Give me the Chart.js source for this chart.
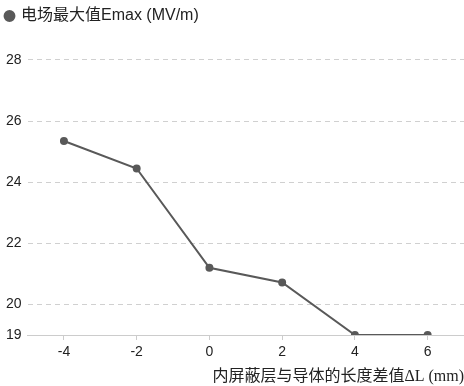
<!DOCTYPE html>
<html>
<head>
<meta charset="utf-8">
<script src="https://cdn.jsdelivr.net/npm/chart.js@4"></script>
<style>
  html, body { margin: 0; padding: 0; background: #fff; }
  #wrap { width: 464px; height: 386px; }
</style>
</head>
<body>
<div id="wrap"><canvas id="chart" width="464" height="386"></canvas></div>
<script>
// 横軸: 長さの差 ΔL (mm)
const deltaL = ['-4', '-2', '0', '2', '4', '6'];
// 電場最大値 Emax (MV/m)
const emax = [25.35, 24.45, 21.2, 20.72, 19.0, 19.0];
const yTicks = [19, 20, 22, 24, 26, 28];

const seriesName = '电场最大值Emax (MV/m)';
const xTitle = '内屏蔽层与导体的长度差值ΔL (mm)';

document.addEventListener('DOMContentLoaded', function() {
    const ctx = document.getElementById('chart');
    new Chart(ctx, {
        type: 'line',
        data: {
            labels: deltaL,
            datasets: [{
                label: seriesName,
                data: emax,
                borderColor: '#595959',
                backgroundColor: '#595959',
                borderWidth: 2,
                pointRadius: 3,
                pointHoverRadius: 4,
                tension: 0
            }]
        },
        options: {
            responsive: false,
            animation: false,
            layout: { autoPadding: false, padding: { left: 0, right: 0, top: 2, bottom: 0 } },
            plugins: {
                legend: {
                    align: 'start',
                    labels: {
                        usePointStyle: true,
                        pointStyle: 'circle',
                        boxWidth: 7,
                        boxHeight: 7,
                        padding: 6,
                        color: '#222',
                        font: { family: 'Arial, "Liberation Sans", "Noto Sans CJK SC"', size: 16 }
                    }
                },
                tooltip: { enabled: false }
            },
            scales: {
                x: {
                    offset: true,
                    grid: {
                        display: true,
                        drawOnChartArea: false,
                        drawTicks: true,
                        tickLength: 5,
                        color: '#ccc'
                    },
                    border: { color: '#ccc' },
                    ticks: {
                        color: '#222',
                        padding: 4,
                        font: { family: 'Arial, "Liberation Sans"', size: 14 }
                    },
                    title: {
                        display: true,
                        text: xTitle,
                        align: 'end',
                        color: '#222',
                        padding: { top: 2, bottom: 0 },
                        font: { family: '"Liberation Serif", "Noto Sans CJK SC"', size: 16 }
                    }
                },
                y: {
                    min: 19,
                    max: 28.85,
                    afterBuildTicks: function(axis) {
                        axis.ticks = yTicks.map(v => ({ value: v }));
                    },
                    grid: {
                        drawTicks: false,
                        color: '#d0d0d0',
                        lineWidth: 1
                    },
                    border: { display: false, dash: [5, 4] },
                    ticks: {
                        color: '#222',
                        padding: 6,
                        font: { family: 'Arial, "Liberation Sans"', size: 14 }
                    }
                }
            }
        }
    });
});
</script>
</body>
</html>
